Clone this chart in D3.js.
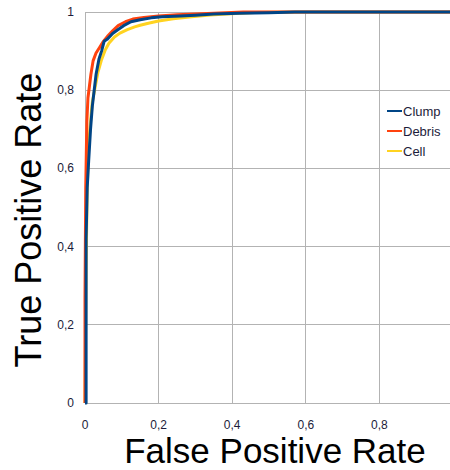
<!DOCTYPE html>
<html>
<head>
<meta charset="utf-8">
<script src="https://cdn.jsdelivr.net/npm/d3@7/dist/d3.min.js"></script>
<style>
html,body{margin:0;padding:0;background:#fff;}
svg{display:block;}
</style>
</head>
<body>
<svg id="chart" width="450" height="470"></svg>
<script>
const ticks = [0, 0.2, 0.4, 0.6, 0.8, 1];
const tickLabels = ["0", "0,2", "0,4", "0,6", "0,8", "1"];
const seriesNames = ["Clump", "Debris", "Cell"];
const seriesColors = ["#004586", "#ff420e", "#ffd320"];

const clumpFpr = [0, 0.003, 0.003, 0.006, 0.010, 0.015, 0.020, 0.025, 0.030, 0.038, 0.045, 0.052, 0.060, 0.075, 0.090, 0.105, 0.125, 0.150, 0.180, 0.210, 0.260, 0.300, 0.350, 0.420, 0.500, 0.570, 0.700, 0.850, 1.0];
const clumpTpr = [0, 0.0, 0.42, 0.55, 0.62, 0.70, 0.76, 0.80, 0.84, 0.88, 0.90, 0.925, 0.93, 0.945, 0.955, 0.965, 0.975, 0.98, 0.985, 0.988, 0.99, 0.992, 0.995, 0.997, 0.998, 1.0, 1.0, 1.0, 1.0];

const debrisFpr = [0, 0.0, 0.002, 0.005, 0.008, 0.012, 0.016, 0.022, 0.030, 0.040, 0.050, 0.063, 0.075, 0.090, 0.110, 0.130, 0.160, 0.200, 0.250, 0.300, 0.350, 0.430, 0.570, 1.0];
const debrisTpr = [0, 0.27, 0.55, 0.72, 0.78, 0.81, 0.84, 0.875, 0.895, 0.91, 0.925, 0.94, 0.952, 0.965, 0.975, 0.982, 0.986, 0.99, 0.993, 0.995, 0.997, 1.0, 1.0, 1.0];

const cellFpr = [0, 0.003, 0.006, 0.010, 0.015, 0.020, 0.028, 0.035, 0.045, 0.055, 0.065, 0.080, 0.095, 0.115, 0.135, 0.150, 0.175, 0.200, 0.240, 0.290, 0.340, 0.385, 0.460, 0.6, 1.0];
const cellTpr = [0, 0.35, 0.55, 0.66, 0.72, 0.77, 0.81, 0.845, 0.878, 0.903, 0.92, 0.936, 0.946, 0.955, 0.962, 0.966, 0.972, 0.977, 0.983, 0.988, 0.992, 0.995, 0.999, 1.0, 1.0];

const series = [
  {name: seriesNames[0], color: seriesColors[0], pts: clumpFpr.map((f, i) => [f, clumpTpr[i]])},
  {name: seriesNames[1], color: seriesColors[1], pts: debrisFpr.map((f, i) => [f, debrisTpr[i]])},
  {name: seriesNames[2], color: seriesColors[2], pts: cellFpr.map((f, i) => [f, cellTpr[i]])}
];

const svg = d3.select("#chart");
const x = d3.scaleLinear().domain([0, 1]).range([85, 453]);
const y = d3.scaleLinear().domain([0, 1]).range([403, 12]);
const font = "'Liberation Sans', Arial, sans-serif";
const grid = "#b3b3b3";

// grid
const g = svg.append("g");
g.selectAll(".vg").data(ticks).enter().append("line")
  .attr("x1", d => x(d)).attr("x2", d => x(d))
  .attr("y1", y(1)).attr("y2", y(0))
  .attr("stroke", grid).attr("stroke-width", 1).attr("shape-rendering", "crispEdges");
g.selectAll(".hg").data(ticks).enter().append("line")
  .attr("x1", x(0)).attr("x2", x(1))
  .attr("y1", d => y(d)).attr("y2", d => y(d))
  .attr("stroke", grid).attr("stroke-width", 1).attr("shape-rendering", "crispEdges");

// tick labels
svg.selectAll(".yl").data(ticks).enter().append("text")
  .attr("x", 74).attr("y", d => y(d) + 4)
  .attr("text-anchor", "end")
  .attr("font-family", font).attr("font-size", 12).attr("fill", "#1c1c3a")
  .text((d, i) => tickLabels[i]);
svg.selectAll(".xl").data(ticks).enter().append("text")
  .attr("x", d => x(d)).attr("y", 429)
  .attr("text-anchor", "middle")
  .attr("font-family", font).attr("font-size", 12).attr("fill", "#1c1c3a")
  .text((d, i) => tickLabels[i]);

// lines (draw Cell, Debris, then Clump on top)
const line = d3.line().x(d => x(d[0])).y(d => y(d[1]));
series.slice().reverse().forEach(s => {
  svg.append("path").datum(s.pts)
    .attr("d", line)
    .attr("fill", "none")
    .attr("stroke", s.color)
    .attr("stroke-width", 3)
    .attr("stroke-linejoin", "round");
});

// legend
const leg = svg.append("g");
series.forEach((s, i) => {
  const ly = 111 + i * 20;
  leg.append("line").attr("x1", 387).attr("x2", 402).attr("y1", ly).attr("y2", ly)
    .attr("stroke", s.color).attr("stroke-width", 2);
  leg.append("text").attr("x", 403).attr("y", ly + 4.5)
    .attr("font-family", font).attr("font-size", 13).attr("fill", "#1c1c3a")
    .text(s.name);
});

// axis titles
svg.append("text")
  .attr("x", 275).attr("y", 463)
  .attr("text-anchor", "middle")
  .attr("font-family", font).attr("font-size", 35).attr("fill", "#000")
  .text("False Positive Rate");
svg.append("text")
  .attr("transform", "translate(41,220) rotate(-90)")
  .attr("text-anchor", "middle")
  .attr("font-family", font).attr("font-size", 36).attr("fill", "#000")
  .text("True Positive Rate");
</script>
</body>
</html>
